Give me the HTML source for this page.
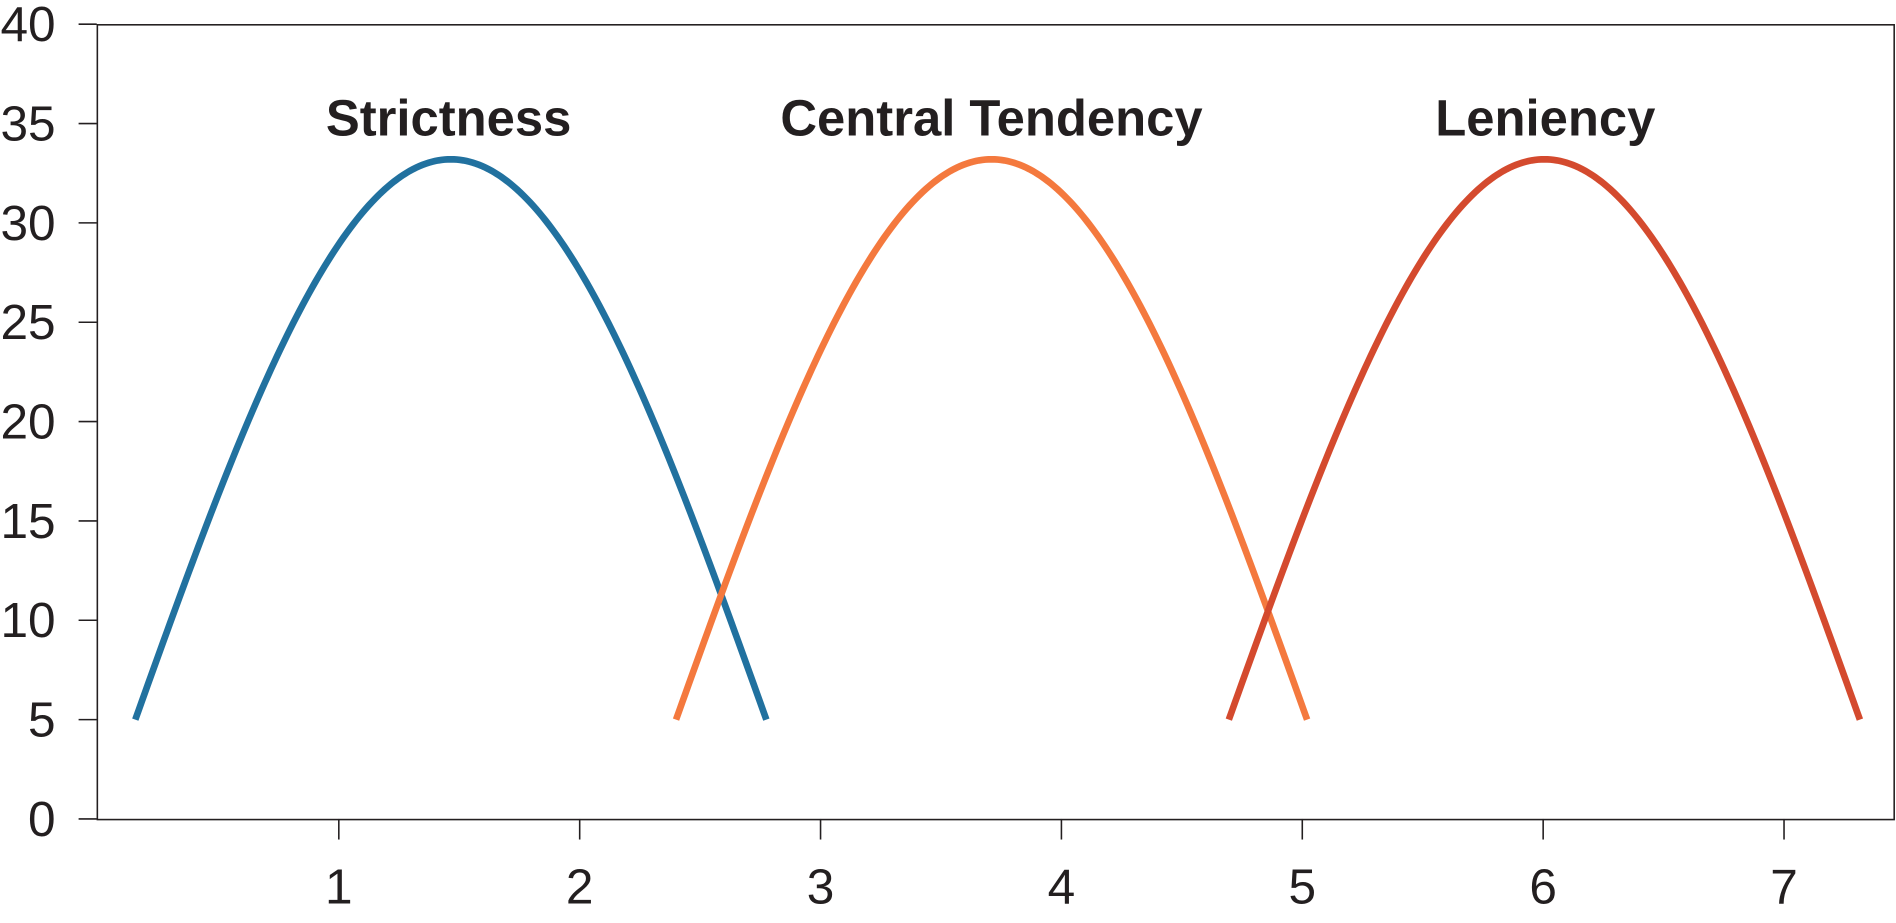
<!DOCTYPE html>
<html><head><meta charset="utf-8"><style>
html,body{margin:0;padding:0;background:#fff;width:1896px;height:923px;overflow:hidden}
svg{display:block}
text{font-family:"Liberation Sans",sans-serif;fill:#231f20}
</style></head><body>
<svg id="s" width="1896" height="923" viewBox="0 0 1568 763" preserveAspectRatio="none">
<rect x="80.5" y="20.5" width="1486" height="657" fill="none" stroke="#231f20" stroke-width="1.3"/>
<g id="ticks" stroke="#231f20" stroke-width="1.3"></g>
<g id="labels" font-size="41"></g>
<g id="curves" fill="none" stroke-width="5.5"></g>
<g font-size="42" font-weight="bold" text-anchor="middle">
<text x="371" y="112">Strictness</text>
<text x="820" y="112">Central Tendency</text>
<text x="1278" y="112">Leniency</text>
</g>
</svg>
<script>
var NS="http://www.w3.org/2000/svg";
function X(v){return 81+199.2*v}
function Y(v){return 677-16.425*v}
var t=document.getElementById('ticks'),l=document.getElementById('labels'),c=document.getElementById('curves');
function el(tag,a,p,txt){var e=document.createElementNS(NS,tag);for(var k in a)e.setAttribute(k,a[k]);if(txt!=null)e.textContent=txt;p.appendChild(e);return e}
for(var i=0;i<=8;i++){var y=Y(i*5);el('line',{x1:65,x2:80,y1:y,y2:y},t);el('text',{x:46,y:y+14,'text-anchor':'end'},l,String(i*5));}
for(var i=1;i<=7;i++){var x=X(i);el('line',{x1:x,x2:x,y1:677,y2:694},t);el('text',{x:x,y:747,'text-anchor':'middle'},l,String(i));}
var cs=[[1.465,'#21719f'],[3.71,'#f4793e'],[6.005,'#d44a2e']];
cs.forEach(function(q){var d='';for(var k=0;k<=200;k++){var u=-1.31+2.62*k/200;var v=5+28.2*Math.cos(Math.PI/2*u/1.31);d+=(k?'L':'M')+X(q[0]+u).toFixed(2)+','+Y(v).toFixed(2);}el('path',{d:d,stroke:q[1]},c);});
</script>
</body></html>
